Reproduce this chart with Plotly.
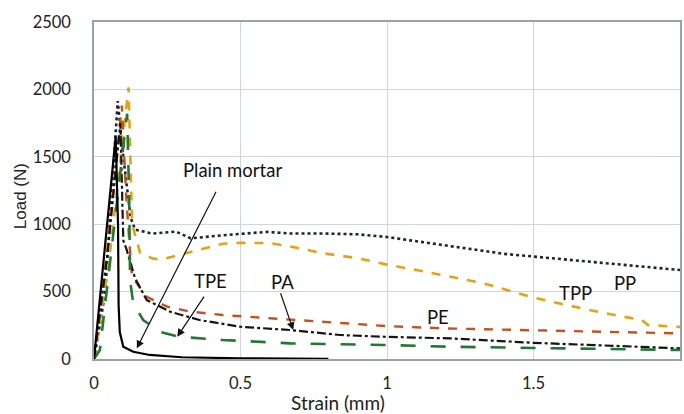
import plotly.graph_objects as go

# ---- data (Strain mm, Load N) ----
pp_x = [0, 0.038, 0.081, 0.10, 0.125, 0.14, 0.20, 0.28, 0.33, 0.44, 0.59, 0.67, 0.78, 0.90, 1.0, 1.1, 1.2, 1.3, 1.4, 1.5, 1.6, 1.7, 1.8, 1.9, 2.0]
pp_y = [0, 489, 1913, 1500, 1050, 960, 930, 945, 895, 918, 943, 931, 931, 925, 905, 875, 845, 815, 780, 760, 740, 720, 700, 682, 660]

tpp_x = [0, 0.05, 0.118, 0.125, 0.13, 0.157, 0.20, 0.23, 0.33, 0.44, 0.50, 0.60, 0.67, 0.78, 0.90, 1.0, 1.1, 1.2, 1.33, 1.49, 1.59, 1.69, 1.81, 1.87, 1.89, 2.0]
tpp_y = [0, 700, 2015, 1500, 1000, 790, 745, 738, 795, 855, 862, 860, 835, 785, 748, 700, 660, 615, 561, 461, 412, 363, 313, 290, 252, 238]

pe_x = [0, 0.045, 0.095, 0.11, 0.123, 0.13, 0.18, 0.25, 0.33, 0.44, 0.61, 0.78, 1.0, 1.2, 1.5, 2.0]
pe_y = [0, 800, 1880, 1200, 800, 610, 461, 388, 351, 326, 301, 277, 244, 227, 212, 190]

pa_x = [0, 0.045, 0.09, 0.10, 0.11, 0.14, 0.18, 0.26, 0.36, 0.50, 0.67, 0.84, 0.99, 1.215, 1.5, 2.0]
pa_y = [0, 760, 1750, 880, 820, 600, 437, 351, 289, 239, 215, 178, 165, 153, 120, 79]

tpe_x = [0, 0.02, 0.049, 0.113, 0.12, 0.123, 0.134, 0.168, 0.225, 0.29, 0.44, 0.67, 0.99, 1.215, 1.5, 2.0]
tpe_y = [0, 67, 610, 1820, 1200, 585, 412, 289, 202, 165, 141, 116, 104, 91, 82, 67]

pm_x = [0, 0.074, 0.082, 0.084, 0.088, 0.10, 0.134, 0.19, 0.30, 0.50, 0.80]
pm_y = [0, 1650, 1000, 400, 200, 91, 54, 30, 13, 5, 2]

labels = ["PP", "TPP", "PE", "Plain mortar", "TPE", "PA"]
label_x = [1.812, 1.645, 1.174, 0.471, 0.399, 0.642]
label_y = [563, 489, 311, 1400, 578, 570]

# arrows: (tail x, tail y, tip x, tip y)
arrow_tail_x = [0.419, 0.379, 0.635]
arrow_tail_y = [1252, 474, 499]
arrow_tip_x = [0.146, 0.284, 0.680]
arrow_tip_y = [79, 165, 215]

x_title = "Strain (mm)"
y_title = "Load (N)"

fig = go.Figure()
series = [
    ("PP", pp_x, pp_y, "#1b2338", "dot", 2.6),
    ("TPP", tpp_x, tpp_y, "#E8A20C", "dash", 2.6),
    ("PE", pe_x, pe_y, "#C5511C", "dash", 2.4),
    ("PA", pa_x, pa_y, "#151515", "dashdot", 2.2),
    ("TPE", tpe_x, tpe_y, "#1E7A32", "longdash", 2.6),
    ("Plain mortar", pm_x, pm_y, "#000000", "solid", 2.2),
]
for name, xs, ys, col, dash, w in series:
    fig.add_trace(go.Scatter(x=xs, y=ys, mode="lines", name=name,
                             line=dict(color=col, dash=dash, width=w)))

for t, x, y in zip(labels, label_x, label_y):
    fig.add_annotation(x=x, y=y, text=t, showarrow=False,
                       font=dict(family="Lato", size=18.5, color="#111111"))

for tx, ty, hx, hy in zip(arrow_tail_x, arrow_tail_y, arrow_tip_x, arrow_tip_y):
    fig.add_annotation(x=hx, y=hy, ax=tx, ay=ty, xref="x", yref="y",
                       axref="x", ayref="y", text="", showarrow=True,
                       arrowhead=2, arrowsize=1.3, arrowwidth=1.2, arrowcolor="#111111")

# axis titles (placed as in the reference, offset from the plot centre)
fig.add_annotation(xref="paper", yref="paper", x=0.4167, y=-0.128,
                   xanchor="center", yanchor="middle", text=x_title, showarrow=False,
                   font=dict(family="Lato", size=19, color="#222222"))
fig.add_annotation(xref="paper", yref="paper", x=-0.124, y=0.484,
                   xanchor="center", yanchor="middle", text=y_title, showarrow=False,
                   textangle=-90,
                   font=dict(family="Liberation Sans", size=17, color="#222222"))

fig.update_layout(
    width=684, height=414,
    margin=dict(l=94, r=2, t=22, b=55),
    paper_bgcolor="white", plot_bgcolor="white",
    showlegend=False,
    font=dict(family="Lato", size=16.5, color="#222222"),
)
fig.update_xaxes(range=[0, 2], tickvals=[0, 0.5, 1, 1.5, 2],
                 ticktext=["0", "0.5", "1", "1.5", "2"],
                 showgrid=True, gridcolor="#cfd6de", gridwidth=1,
                 showline=True, linecolor="#9aa3ad", linewidth=1.5, mirror=True,
                 zeroline=False, ticks="", ticklabelstandoff=8)
fig.update_yaxes(range=[0, 2500], tickvals=[0, 500, 1000, 1500, 2000, 2500],
                 showgrid=True, gridcolor="#cfd6de", gridwidth=1,
                 showline=True, linecolor="#9aa3ad", linewidth=1.5, mirror=True,
                 zeroline=False, ticks="", ticklabelstandoff=18)

fig.write_html("out.html")
